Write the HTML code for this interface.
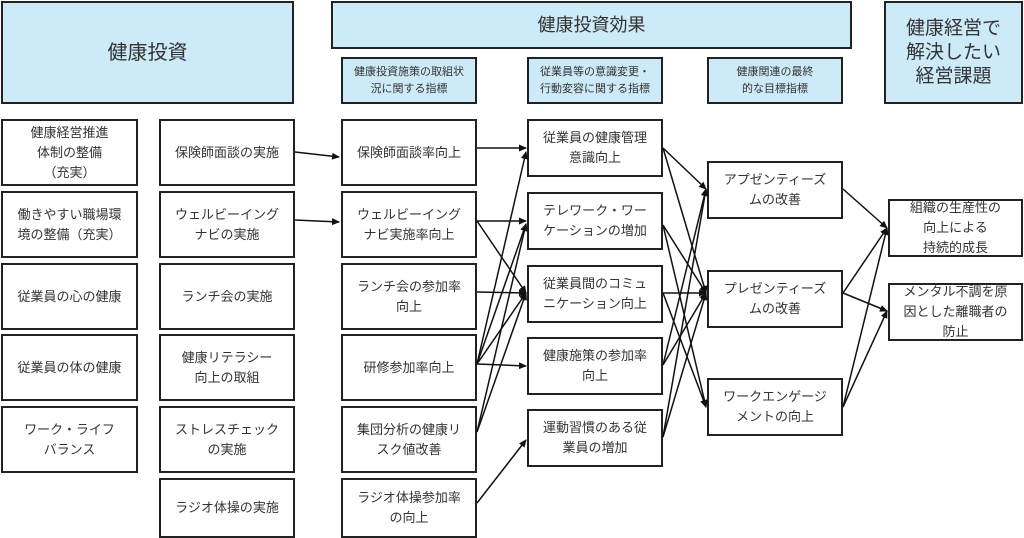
<!DOCTYPE html>
<html><head><meta charset="utf-8"><style>
body{margin:0;width:1024px;height:538px;background:#fff;overflow:hidden;position:relative;font-family:"Liberation Sans","Noto Sans CJK JP",sans-serif;color:#333}
.b{position:absolute;box-sizing:border-box;border:2px solid #222;background:#fff;display:flex;align-items:center;justify-content:center;text-align:center;font-size:13px;line-height:20px}
.h{background:#cdeaf8;border:2px solid #222;color:#333}
svg{position:absolute;left:0;top:0}
</style></head><body>
<div class="b h" style="left:1px;top:1px;width:293px;height:103px;font-size:20px">健康投資</div>
<div class="b h" style="left:331px;top:1px;width:521px;height:48px;font-size:18px">健康投資効果</div>
<div class="b h" style="left:341px;top:57px;width:136px;height:47px;font-size:11px;line-height:17px">健康投資施策の取組状<br>況に関する指標</div>
<div class="b h" style="left:527px;top:57px;width:136px;height:47px;font-size:11px;line-height:17px">従業員等の意識変更・<br>行動変容に関する指標</div>
<div class="b h" style="left:707px;top:57px;width:136px;height:47px;font-size:11px;line-height:17px">健康関連の最終<br>的な目標指標</div>
<div class="b h" style="left:884px;top:1px;width:139px;height:103px;font-size:19px;line-height:24px">健康経営で<br>解決したい<br>経営課題</div>

<div class="b" style="left:1px;top:119px;width:137px;height:67px">健康経営推進<br>体制の整備<br>（充実）</div>
<div class="b" style="left:1px;top:191px;width:137px;height:67px">働きやすい職場環<br>境の整備（充実）</div>
<div class="b" style="left:1px;top:263px;width:137px;height:67px">従業員の心の健康</div>
<div class="b" style="left:1px;top:334px;width:137px;height:67px">従業員の体の健康</div>
<div class="b" style="left:1px;top:406px;width:137px;height:67px">ワーク・ライフ<br>バランス</div>

<div class="b" style="left:159px;top:119px;width:136px;height:67px">保険師面談の実施</div>
<div class="b" style="left:159px;top:191px;width:136px;height:67px">ウェルビーイング<br>ナビの実施</div>
<div class="b" style="left:159px;top:263px;width:136px;height:67px">ランチ会の実施</div>
<div class="b" style="left:159px;top:334px;width:136px;height:67px">健康リテラシー<br>向上の取組</div>
<div class="b" style="left:159px;top:406px;width:136px;height:67px">ストレスチェック<br>の実施</div>
<div class="b" style="left:159px;top:478px;width:136px;height:60px">ラジオ体操の実施</div>

<div class="b" style="left:341px;top:119px;width:136px;height:67px">保険師面談率向上</div>
<div class="b" style="left:341px;top:191px;width:136px;height:67px">ウェルビーイング<br>ナビ実施率向上</div>
<div class="b" style="left:341px;top:263px;width:136px;height:67px">ランチ会の参加率<br>向上</div>
<div class="b" style="left:341px;top:334px;width:136px;height:67px">研修参加率向上</div>
<div class="b" style="left:341px;top:406px;width:136px;height:67px">集団分析の健康リ<br>スク値改善</div>
<div class="b" style="left:341px;top:478px;width:136px;height:60px">ラジオ体操参加率<br>の向上</div>

<div class="b" style="left:527px;top:119px;width:136px;height:58px">従業員の健康管理<br>意識向上</div>
<div class="b" style="left:527px;top:192px;width:136px;height:58px">テレワーク・ワー<br>ケーションの増加</div>
<div class="b" style="left:527px;top:265px;width:136px;height:58px">従業員間のコミュ<br>ニケーション向上</div>
<div class="b" style="left:527px;top:337px;width:136px;height:58px">健康施策の参加率<br>向上</div>
<div class="b" style="left:527px;top:409px;width:136px;height:58px">運動習慣のある従<br>業員の増加</div>

<div class="b" style="left:707px;top:161px;width:136px;height:58px">アプゼンティーズ<br>ムの改善</div>
<div class="b" style="left:707px;top:270px;width:136px;height:58px">プレゼンティーズ<br>ムの改善</div>
<div class="b" style="left:707px;top:378px;width:136px;height:58px">ワークエンゲージ<br>メントの向上</div>

<div class="b" style="left:888px;top:199px;width:135px;height:58px">組織の生産性の<br>向上による<br>持続的成長</div>
<div class="b" style="left:888px;top:283px;width:135px;height:58px">メンタル不調を原<br>因とした離職者の<br>防止</div>

<svg width="1024" height="538">
<defs><marker id="a" markerWidth="8" markerHeight="8" refX="7" refY="4" orient="auto" markerUnits="userSpaceOnUse"><path d="M0,0.5 L8,4 L0,7.5 z" fill="#111"/></marker></defs>
<g stroke="#111" stroke-width="1.5" fill="none" marker-end="url(#a)">
<line x1="295" y1="152" x2="339" y2="157"/>
<line x1="295" y1="220" x2="339" y2="222"/>
<line x1="477" y1="148" x2="526" y2="148"/>
<line x1="477" y1="221" x2="526" y2="221"/>
<line x1="477" y1="221" x2="526" y2="293"/>
<line x1="477" y1="292" x2="526" y2="293"/>
<line x1="477" y1="364" x2="526" y2="152"/>
<line x1="477" y1="364" x2="526" y2="224"/>
<line x1="477" y1="364" x2="526" y2="293"/>
<line x1="477" y1="364" x2="526" y2="366"/>
<line x1="477" y1="432" x2="526" y2="224"/>
<line x1="477" y1="432" x2="526" y2="293"/>
<line x1="477" y1="503" x2="526" y2="440"/>
<line x1="663" y1="148" x2="706" y2="189"/>
<line x1="663" y1="148" x2="706" y2="293"/>
<line x1="663" y1="225" x2="706" y2="293"/>
<line x1="663" y1="225" x2="706" y2="407"/>
<line x1="663" y1="293" x2="706" y2="293"/>
<line x1="663" y1="293" x2="706" y2="407"/>
<line x1="663" y1="365" x2="706" y2="189"/>
<line x1="663" y1="365" x2="706" y2="293"/>
<line x1="663" y1="437" x2="706" y2="189"/>
<line x1="663" y1="437" x2="706" y2="293"/>
<line x1="843" y1="189" x2="887" y2="228"/>
<line x1="843" y1="293" x2="887" y2="228"/>
<line x1="843" y1="293" x2="887" y2="311"/>
<line x1="843" y1="407" x2="887" y2="228"/>
<line x1="843" y1="407" x2="887" y2="311"/>
</g></svg>
</body></html>
